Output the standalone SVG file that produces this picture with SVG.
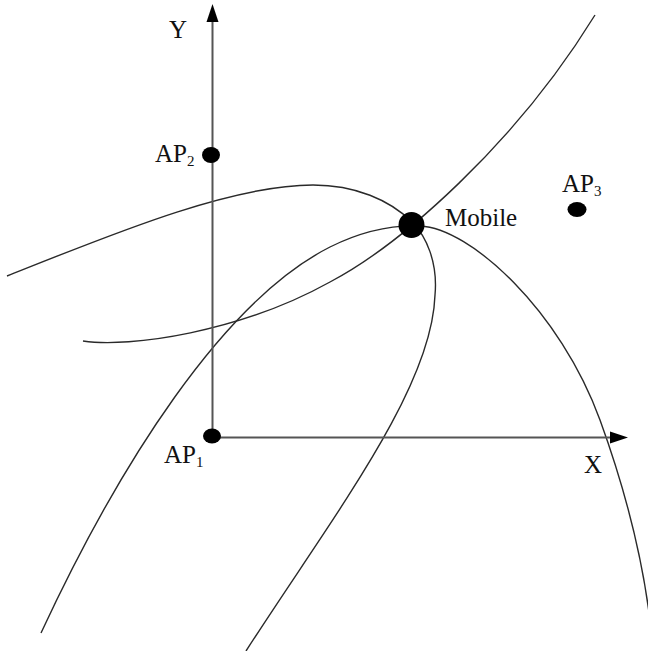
<svg xmlns="http://www.w3.org/2000/svg" width="648" height="651" viewBox="0 0 648 651">
  <style>
    .curve { fill: none; stroke: #2a2a2a; stroke-width: 1.4; }
    .axis { fill: none; stroke: #555; stroke-width: 2; }
    .head { fill: #000; }
    .dot { fill: #000; }
    .sub { font-size: 15px; }
  </style>
  <rect width="648" height="651" fill="#fff"/>
  <g id="connectors">
    <path id="curve1" class="curve" d="M7,276 C110,235 230,185 313,185 C355,185 390,200 412,222 C426,236 438,262 435,295 C432,390 330,520 246,651"/>
    <path id="curve2" class="curve" d="M83,341 C130,348 240,332 330,282 C400,245 515,145 595,15"/>
    <path id="curve3" class="curve" d="M41,633 C119,465 223,301 330,247 C366,229 395,225 420,226 C470,228 560,310 600,420 C620,475 640,540 650,620"/>
  </g>
  <g id="axes" font-family="'Liberation Serif', 'Times New Roman', serif" font-size="25" fill="#111">
    <line class="axis" x1="212.5" y1="437.5" x2="212.5" y2="20"/>
    <polygon class="head" points="212.5,4 206.5,22 218.5,22"/>
    <line class="axis" x1="212" y1="437.5" x2="612" y2="437.5"/>
    <polygon class="head" points="628,437.5 610,431.5 610,443.5"/>
    <text id="label-Y" x="169" y="38">Y</text>
    <text id="label-X" x="584" y="473">X</text>
  </g>
  <g id="AP1" font-family="'Liberation Serif', 'Times New Roman', serif" font-size="25" fill="#111">
    <ellipse class="dot" cx="212" cy="436" rx="9" ry="7.5"/>
    <text x="164" y="463">AP<tspan class="sub" dy="4">1</tspan></text>
  </g>
  <g id="AP2" font-family="'Liberation Serif', 'Times New Roman', serif" font-size="25" fill="#111">
    <ellipse class="dot" cx="211" cy="155" rx="9" ry="8"/>
    <text x="155" y="162">AP<tspan class="sub" dy="4">2</tspan></text>
  </g>
  <g id="AP3" font-family="'Liberation Serif', 'Times New Roman', serif" font-size="25" fill="#111">
    <ellipse class="dot" cx="577" cy="209.5" rx="9.5" ry="7.5"/>
    <text x="562" y="192">AP<tspan class="sub" dy="4">3</tspan></text>
  </g>
  <g id="Mobile" font-family="'Liberation Serif', 'Times New Roman', serif" font-size="25" fill="#111">
    <circle class="dot" cx="411.5" cy="225" r="13"/>
    <text x="445" y="226">Mobile</text>
  </g>
</svg>
